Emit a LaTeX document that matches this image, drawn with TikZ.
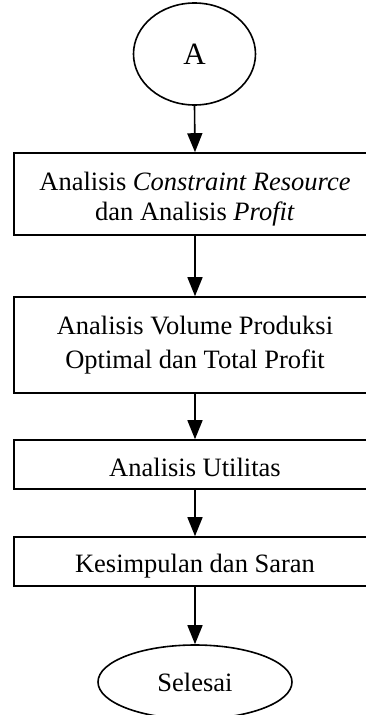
\documentclass[tikz,border=0pt]{standalone}
\usepackage{fontspec}
\setmainfont{Liberation Serif}
\usetikzlibrary{shapes.geometric,arrows.meta}
\newcommand{\dnshift}[2]{\raisebox{-#1}[\height][\depth]{#2}}
\begin{document}
\begin{tikzpicture}[x=1pt,y=-1pt,
  line width=1.6pt,
  txt/.style={font=\fontsize{26.5}{34}\selectfont, align=center, inner sep=0pt},
  stepbox/.style={txt, draw, rectangle, minimum width=362pt},
  term/.style={txt, draw, ellipse, inner sep=0pt},
  flow/.style={-{Triangle[length=19pt,width=15pt]}, line width=1.6pt}]
\useasboundingbox (0,0) rectangle (366,715);
\clip (0,0) rectangle (366,715);
\node[term, minimum width=122pt, minimum height=102pt, font=\fontsize{31}{36}\selectfont] (a) at (194.5,54) {A};
\node[stepbox, minimum height=82pt] (b1) at (195,194) {\dnshift{5pt}{\fontsize{26.5}{30}\selectfont\begin{tabular}{@{}c@{}}Analisis \textit{Constraint Resource}\\dan Analisis \textit{Profit}\end{tabular}}};
\node[stepbox, minimum height=96pt] (b2) at (195,345) {\begin{tabular}{@{}c@{}}Analisis Volume Produksi\\Optimal dan Total Profit\end{tabular}};
\node[stepbox, minimum height=49pt] (b3) at (195,464.5) {\dnshift{2.5pt}{Analisis Utilitas}};
\node[stepbox, minimum height=49pt] (b4) at (195,561.5) {\dnshift{4.3pt}{Kesimpulan dan Saran}};
\node[term, minimum width=194pt, minimum height=74pt] (s) at (195,682) {Selesai};
\draw[flow] (a.south) -- (b1.north);
\draw[flow] (b1.south) -- (b2.north);
\draw[flow] (b2.south) -- (b3.north);
\draw[flow] (b3.south) -- (b4.north);
\draw[flow] (b4.south) -- (s.north);
\end{tikzpicture}
\end{document}
